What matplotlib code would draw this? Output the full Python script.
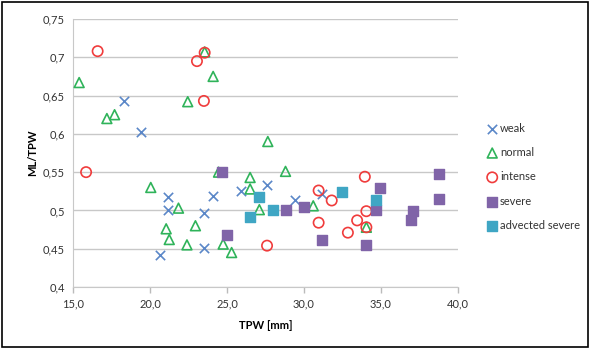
import matplotlib
matplotlib.use('Agg')
import matplotlib.pyplot as plt
from matplotlib.patches import Rectangle
from matplotlib.ticker import FuncFormatter

# data (TPW [mm], ML/TPW)
weak_x = [18.3, 19.4, 21.2, 21.2, 20.65, 23.5, 23.5, 24.1, 25.9, 27.6, 29.4, 31.2]
weak_y = [0.643, 0.603, 0.518, 0.500, 0.442, 0.497, 0.451, 0.519, 0.526, 0.533, 0.514, 0.522]

normal_x = [15.4, 17.2, 17.7, 22.45, 23.55, 24.1, 20.05, 21.85, 21.05, 21.25, 22.95, 22.4,
            24.45, 24.75, 25.3, 26.5, 26.5, 27.1, 27.65, 28.8, 30.6, 34.05]
normal_y = [0.667, 0.620, 0.625, 0.642, 0.707, 0.675, 0.530, 0.503, 0.476, 0.462, 0.480, 0.455,
            0.550, 0.456, 0.445, 0.543, 0.528, 0.501, 0.590, 0.551, 0.506, 0.478]

intense_x = [16.6, 15.85, 23.05, 23.55, 23.5, 27.6, 30.95, 31.8, 30.95, 33.95, 32.85, 33.45,
             34.05, 34.05]
intense_y = [0.708, 0.550, 0.695, 0.706, 0.643, 0.454, 0.526, 0.513, 0.484, 0.544, 0.471, 0.487,
             0.499, 0.478]

severe_x = [24.7, 25.0, 28.8, 30.0, 31.15, 34.05, 34.95, 34.65, 37.05, 36.95, 38.75, 38.75]
severe_y = [0.550, 0.468, 0.500, 0.504, 0.462, 0.455, 0.529, 0.501, 0.499, 0.487, 0.547, 0.515]

advected_x = [26.5, 27.05, 28.0, 32.45, 34.65]
advected_y = [0.491, 0.517, 0.500, 0.524, 0.513]

plt.rcParams['font.family'] = ['Lato', 'DejaVu Sans']

fig = plt.figure(figsize=(5.9, 3.49), dpi=100)
ax = fig.add_axes([73 / 590, 1 - 287 / 349, (458 - 73) / 590, (287 - 19) / 349])

ax.scatter(weak_x, weak_y, marker='x', s=45, color='#5b87c8', linewidths=1.2,
           label='weak', zorder=3)
ax.scatter(normal_x, normal_y, marker='^', s=50, facecolors='none', edgecolors='#2fb35a',
           linewidths=1.2, label='normal', zorder=3)
ax.scatter(intense_x, intense_y, marker='o', s=55, facecolors='none', edgecolors='#f03c3c',
           linewidths=1.2, label='intense', zorder=3)
ax.scatter(severe_x, severe_y, marker='s', s=55, color='#8064a8', label='severe', zorder=3)
ax.scatter(advected_x, advected_y, marker='s', s=55, color='#3fa6c4',
           label='advected severe', zorder=3)

ax.set_xlim(15, 40)
ax.set_ylim(0.4, 0.75)
ax.set_xticks([15, 20, 25, 30, 35, 40])
ax.set_yticks([0.4, 0.45, 0.5, 0.55, 0.6, 0.65, 0.7, 0.75])
ax.xaxis.set_major_formatter(FuncFormatter(lambda v, p: f'{v:.1f}'.replace('.', ',')))
ax.yaxis.set_major_formatter(FuncFormatter(lambda v, p: f'{v:g}'.replace('.', ',')))
ax.tick_params(axis='both', labelsize=8, colors='#444444', length=4, width=1)
ax.tick_params(axis='y', length=0, pad=6)
ax.tick_params(axis='x', color='#bbbbbb', direction='out', pad=4)
for lab in ax.get_xticklabels() + ax.get_yticklabels():
    lab.set_color('#333333')

ax.grid(axis='y', color='#c8c8c8', linewidth=1)
ax.set_axisbelow(True)
for side in ['top', 'right']:
    ax.spines[side].set_visible(False)
ax.spines['left'].set_color('#c8c8c8')
ax.spines['bottom'].set_color('#c8c8c8')

ax.set_xlabel('TPW [mm]', fontsize=8, fontweight='bold', labelpad=8)
ax.set_ylabel('ML/TPW', fontsize=8, fontweight='bold', labelpad=3)

leg = ax.legend(loc='upper left', bbox_to_anchor=(1.06, 0.63), frameon=False, fontsize=8,
                handletextpad=0.1, labelspacing=1.2, handlelength=1.2, borderaxespad=0)
for t in leg.get_texts():
    t.set_color('#333333')

fig.patches.append(Rectangle((2 / 590, 2 / 349), 586 / 590, 345 / 349, transform=fig.transFigure,
                             fill=False, edgecolor='black', linewidth=1.2))

plt.savefig('out.png', dpi=100)
plt.close()
